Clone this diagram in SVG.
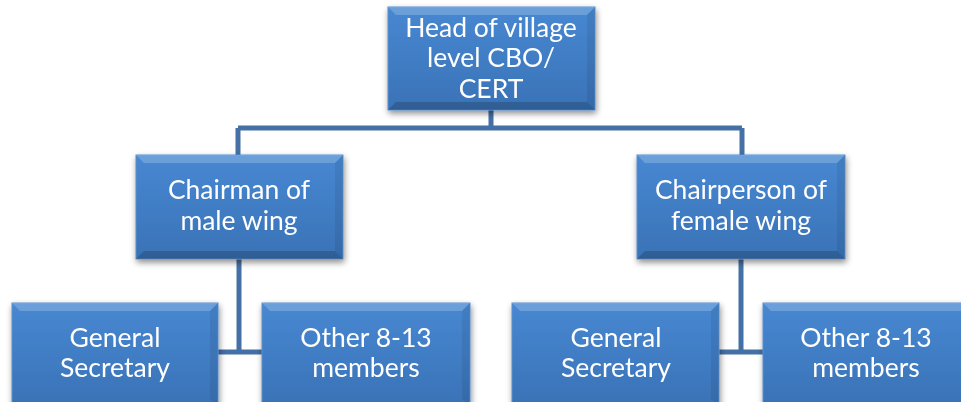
<svg xmlns="http://www.w3.org/2000/svg" width="961" height="402" viewBox="0 0 961 402">
<defs>
<linearGradient id="g" x1="0" y1="0" x2="0" y2="1">
<stop offset="0" stop-color="#4788d2"/>
<stop offset="1" stop-color="#3a72b6"/>
</linearGradient>
<filter id="sh" x="-10%" y="-10%" width="125%" height="130%">
<feGaussianBlur in="SourceAlpha" stdDeviation="3"/>
<feOffset dx="1" dy="3" result="b"/>
<feComponentTransfer><feFuncA type="linear" slope="0.45"/></feComponentTransfer>
<feMerge><feMergeNode/><feMergeNode in="SourceGraphic"/></feMerge>
</filter>
</defs>
<style>
.box{fill:url(#g);stroke:#5b8fcb;stroke-width:1}
.hi{fill:#ffffff;fill-opacity:0.2}
.lo{fill:#000000;fill-opacity:0.18}
.side{fill:#000000;fill-opacity:0.07}
.t{font-family:Lato,"Open Sans","Liberation Sans",sans-serif;font-size:26.5px;fill:#ffffff;text-anchor:middle}
.c{fill:none;stroke:#4470a6;stroke-width:5}
</style>
<g id="connectors">
<path class="c" d="M491 110 V128 M238 128 H742 M238 128 V155 M742 128 V155"/>
<path class="c" d="M239 259 V352 M218 352 H262"/>
<path class="c" d="M741 259 V352 M719 352 H763"/>
</g>
<g id="n_head" filter="url(#sh)">
<rect class="box" x="388" y="7" width="207" height="103"/>
<polygon class="hi" points="388,7 595,7 587,15 396,15"/>
<polygon class="lo" points="388,110 595,110 587,102 396,102"/>
<polygon class="side" points="595,7 595,110 587,102 587,15"/>
<text class="t" x="491" y="37">Head of village</text>
<text class="t" x="491" y="67">level CBO/</text>
<text class="t" x="491" y="98">CERT</text>
</g>
<g id="n_chairman" filter="url(#sh)">
<rect class="box" x="136" y="155" width="207" height="104"/>
<polygon class="hi" points="136,155 343,155 335,163 144,163"/>
<polygon class="lo" points="136,259 343,259 335,251 144,251"/>
<polygon class="side" points="343,155 343,259 335,251 335,163"/>
<text class="t" x="239" y="199">Chairman of</text>
<text class="t" x="239" y="230">male wing</text>
</g>
<g id="n_chairperson" filter="url(#sh)">
<rect class="box" x="637" y="155" width="208" height="104"/>
<polygon class="hi" points="637,155 845,155 837,163 645,163"/>
<polygon class="lo" points="637,259 845,259 837,251 645,251"/>
<polygon class="side" points="845,155 845,259 837,251 837,163"/>
<text class="t" x="741" y="199">Chairperson of</text>
<text class="t" x="741" y="230">female wing</text>
</g>
<g id="n_gs1" filter="url(#sh)">
<rect class="box" x="12" y="303" width="206" height="104"/>
<polygon class="hi" points="12,303 218,303 210,311 20,311"/>
<polygon class="side" points="218,303 218,407 210,399 210,311"/>
<text class="t" x="115" y="347">General</text>
<text class="t" x="115" y="377">Secretary</text>
</g>
<g id="n_other1" filter="url(#sh)">
<rect class="box" x="262" y="303" width="208" height="104"/>
<polygon class="hi" points="262,303 470,303 462,311 270,311"/>
<polygon class="side" points="470,303 470,407 462,399 462,311"/>
<text class="t" x="366" y="347">Other 8-13</text>
<text class="t" x="366" y="377">members</text>
</g>
<g id="n_gs2" filter="url(#sh)">
<rect class="box" x="512" y="303" width="207" height="104"/>
<polygon class="hi" points="512,303 719,303 711,311 520,311"/>
<polygon class="side" points="719,303 719,407 711,399 711,311"/>
<text class="t" x="616" y="347">General</text>
<text class="t" x="616" y="377">Secretary</text>
</g>
<g id="n_other2" filter="url(#sh)">
<rect class="box" x="763" y="303" width="208" height="104"/>
<polygon class="hi" points="763,303 971,303 963,311 771,311"/>
<text class="t" x="866" y="347">Other 8-13</text>
<text class="t" x="866" y="377">members</text>
</g>
</svg>
